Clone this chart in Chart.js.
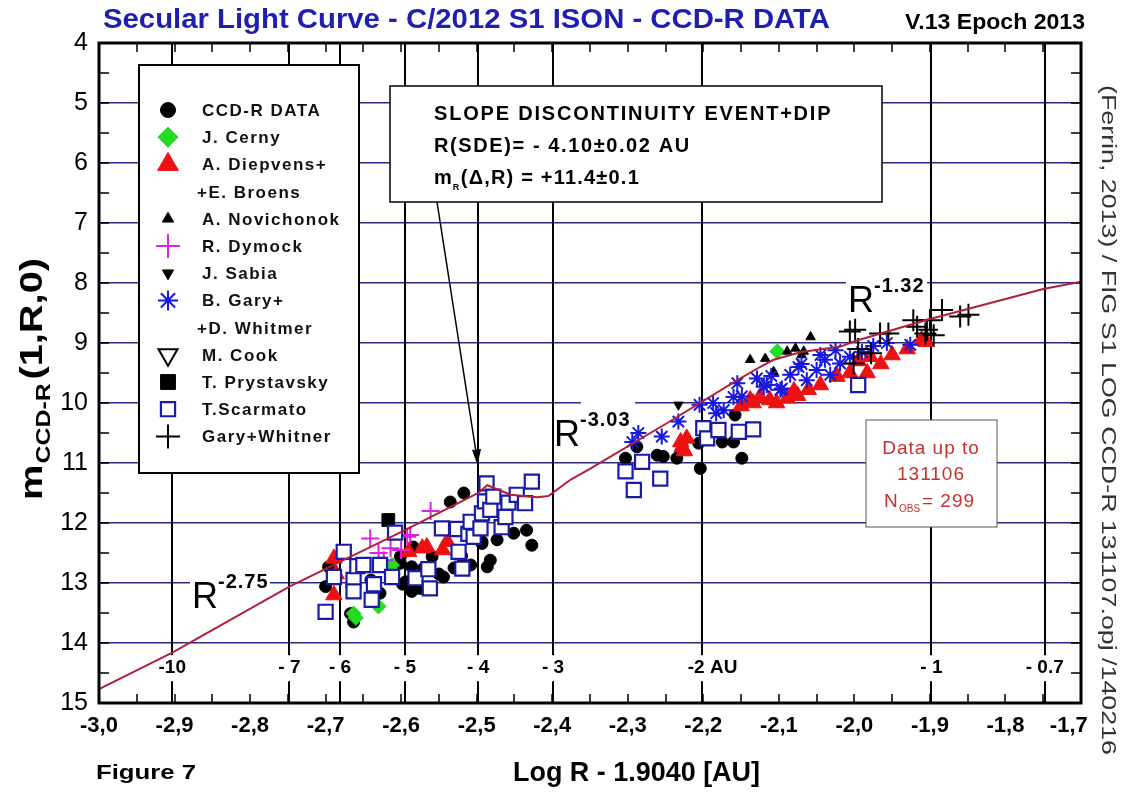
<!DOCTYPE html>
<html>
<head>
<meta charset="utf-8">
<script src="https://cdn.jsdelivr.net/npm/chart.js@4.4.0/dist/chart.umd.min.js"></script>
<style>
  html, body { margin: 0; padding: 0; background: #fff; overflow: hidden; }
  canvas { display: block; }
</style>
</head>
<body>
<canvas id="lightCurve" width="1126" height="793"></canvas>
<script>
// values: [Log R - 1.9040, m(1,R,0)]
const ccdR = [
  [-2.700, 13.06], [-2.696, 12.73], [-2.667, 13.51], [-2.663, 13.65], [-2.628, 13.17],
  [-2.640, 12.95], [-2.615, 12.80], [-2.601, 12.67], [-2.601, 12.56], [-2.598, 13.02],
  [-2.594, 12.98], [-2.586, 12.73], [-2.586, 13.14], [-2.584, 12.40], [-2.575, 13.09],
  [-2.570, 12.75], [-2.559, 12.56], [-2.550, 12.85], [-2.544, 12.90], [-2.535, 11.65],
  [-2.530, 12.75], [-2.520, 12.55], [-2.517, 11.50], [-2.508, 12.70], [-2.493, 12.31],
  [-2.493, 12.34], [-2.486, 12.73], [-2.482, 12.62], [-2.473, 12.28], [-2.451, 12.17],
  [-2.434, 12.12], [-2.427, 12.37],
  [-2.303, 10.92], [-2.288, 10.73], [-2.261, 10.87], [-2.253, 10.89], [-2.235, 10.92],
  [-2.206, 10.67], [-2.204, 11.09], [-2.175, 10.65], [-2.160, 10.65], [-2.158, 10.20],
  [-2.149, 10.92]
];
const cerny = [[-2.663, 13.51], [-2.660, 13.58], [-2.630, 13.39], [-2.612, 12.70], [-2.102, 9.14]];
const diepvens = [
  [-2.689, 12.59], [-2.689, 13.20], [-2.686, 12.85], [-2.590, 12.48], [-2.572, 12.42],
  [-2.566, 12.40], [-2.539, 12.31], [-2.545, 12.45],
  [-2.230, 10.65], [-2.228, 10.73], [-2.222, 10.59], [-2.225, 10.80],
  [-2.150, 10.05], [-2.138, 9.95], [-2.134, 10.00], [-2.125, 9.90], [-2.112, 9.95],
  [-2.103, 10.00], [-2.089, 9.92], [-2.080, 9.80], [-2.075, 9.88], [-2.061, 9.78],
  [-2.045, 9.70], [-2.023, 9.56], [-2.006, 9.50], [-1.995, 9.30], [-1.983, 9.50],
  [-1.979, 9.23], [-1.965, 9.35], [-1.950, 9.20], [-1.930, 9.10], [-1.911, 8.95], [-1.905, 8.98]
];
const novichonok = [
  [-2.138, 9.28], [-2.118, 9.26], [-2.107, 9.48], [-2.089, 9.14], [-2.078, 9.09],
  [-2.070, 9.20], [-2.067, 9.14], [-2.058, 8.90]
];
const dymock = [
  [-2.641, 12.26], [-2.630, 12.50], [-2.623, 12.62], [-2.614, 12.42], [-2.600, 12.45],
  [-2.592, 12.23], [-2.588, 12.20], [-2.561, 11.80]
];
const sabia = [[-2.233, 10.03]];
const garyWhitmer = [
  [-2.294, 10.65], [-2.286, 10.50], [-2.255, 10.56], [-2.233, 10.31], [-2.205, 10.03],
  [-2.187, 10.00], [-2.183, 10.17], [-2.173, 10.12], [-2.160, 9.90], [-2.155, 9.67],
  [-2.149, 9.89], [-2.129, 9.59], [-2.120, 9.73], [-2.116, 9.70], [-2.110, 9.55],
  [-2.098, 9.78], [-2.096, 9.76], [-2.085, 9.53], [-2.074, 9.40], [-2.070, 9.35],
  [-2.063, 9.62], [-2.050, 9.45], [-2.045, 9.20], [-2.039, 9.28], [-2.032, 9.53],
  [-2.025, 9.12], [-2.019, 9.34], [-2.006, 9.23], [-1.990, 9.15], [-1.975, 9.05],
  [-1.957, 9.00], [-1.926, 9.03]
];
const cook = [];
const prystavsky = [[-2.617, 11.95]];
const scarmato = [
  [-2.700, 13.48], [-2.689, 12.90], [-2.676, 12.48], [-2.663, 12.95], [-2.663, 13.14],
  [-2.658, 12.72], [-2.650, 12.70], [-2.639, 13.28], [-2.636, 13.02], [-2.628, 12.70],
  [-2.612, 12.90], [-2.608, 12.16], [-2.581, 12.92], [-2.564, 12.77], [-2.562, 13.09],
  [-2.546, 12.09], [-2.526, 12.10], [-2.524, 12.48], [-2.519, 12.76], [-2.511, 12.18],
  [-2.508, 11.98], [-2.504, 12.23], [-2.495, 12.09], [-2.493, 11.84], [-2.489, 11.64],
  [-2.487, 11.34], [-2.482, 11.78], [-2.478, 11.56], [-2.467, 12.07], [-2.462, 11.90],
  [-2.458, 11.66], [-2.447, 11.53], [-2.436, 11.67], [-2.427, 11.31],
  [-2.303, 11.14], [-2.292, 11.45], [-2.281, 10.98], [-2.257, 11.26], [-2.200, 10.42],
  [-2.195, 10.59], [-2.180, 10.45], [-2.153, 10.48], [-2.134, 10.44], [-1.995, 9.70]
];
const garyWhitner = [
  [-2.006, 8.81], [-1.999, 8.78], [-2.001, 9.34], [-1.995, 9.10], [-1.978, 9.17],
  [-1.966, 8.84], [-1.955, 8.84], [-1.922, 8.62], [-1.917, 8.73], [-1.906, 8.84],
  [-1.904, 8.78], [-1.900, 8.62], [-1.895, 8.87], [-1.884, 8.45], [-1.860, 8.56], [-1.849, 8.53]
];

// broken power-law fit (red line)
const fitLogR = [-3.000, -2.903, -2.748, -2.595, -2.498, -2.486, -2.455, -2.420, -2.405, -2.376,
  -2.349, -2.250, -2.155, -2.125, -2.107, -2.070, -2.018, -2.000, -1.900, -1.750, -1.700];
const fitMag = [14.77, 14.16, 13.06, 12.12, 11.50, 11.37, 11.53, 11.57, 11.55, 11.28,
  11.09, 10.35, 9.62, 9.40, 9.28, 9.15, 9.06, 8.97, 8.60, 8.10, 7.98];

// heliocentric distance markers (AU, pre-perihelion)
const auLinePos = [-2.903, -2.748, -2.681, -2.595, -2.498, -2.399, -2.202, -1.898, -1.748];
const auLineLabels = ['-10', '- 7', '- 6', '- 5', '- 4', '- 3', '-2 AU', '- 1', '- 0.7'];

const NAVY = '#2a2a80';
const SANS = "'Liberation Sans', Arial, sans-serif";
const NARROW = "'Liberation Sans Narrow', 'Liberation Sans', Arial, sans-serif";

const toXY = arr => arr.map(([x, y]) => ({x, y}));

const series = [
  {label: 'CCD-R DATA', data: ccdR, pointStyle: 'circle', r: 6, lr: 7.5, fill: '#000', stroke: '#000', bw: 1, order: 9},
  {label: 'J. Cerny', data: cerny, pointStyle: 'rectRot', r: 7.5, lr: 10, fill: '#22dd22', stroke: '#22cc22', bw: 1, order: 8},
  {label: 'A. Diepvens+', data: diepvens, pointStyle: 'triangle', r: 9.5, lr: 12, fill: '#ee1111', stroke: '#ee1111', bw: 1, order: 7},
  {label: 'A. Novichonok', data: novichonok, pointStyle: 'triangle', r: 5.5, lr: 6.5, fill: '#000', stroke: '#000', bw: 1, order: 6},
  {label: 'R. Dymock', data: dymock, pointStyle: 'cross', r: 9, lr: 12, fill: '#e020e0', stroke: '#e020e0', bw: 2, order: 4},
  {label: 'J. Sabia', data: sabia, pointStyle: 'triangle', rot: 180, r: 5.5, lr: 6.5, fill: '#000', stroke: '#000', bw: 1, order: 5},
  {label: 'B. Gary+', data: garyWhitmer, pointStyle: 'star', r: 8, lr: 10, fill: '#1818e0', stroke: '#1818e0', bw: 2, order: 2},
  {label: 'M. Cook', data: cook, pointStyle: 'triangle', rot: 180, r: 8, lr: 11, fill: '#fff', stroke: '#000', bw: 2, order: 5},
  {label: 'T. Prystavsky', data: prystavsky, pointStyle: 'rect', r: 9, lr: 10.5, fill: '#000', stroke: '#000', bw: 1, order: 5},
  {label: 'T.Scarmato', data: scarmato, pointStyle: 'rect', r: 10, lr: 10, fill: '#fff', stroke: '#1a1aa8', bw: 2.2, order: 3},
  {label: 'Gary+Whitner', data: garyWhitner, pointStyle: 'cross', r: 11, lr: 12, fill: '#000', stroke: '#000', bw: 2, order: 1}
];

const legendRows = [
  {s: 0}, {s: 1}, {s: 2}, {text: '+E. Broens'}, {s: 3}, {s: 4}, {s: 5},
  {s: 6}, {text: '+D. Whitmer'}, {s: 7}, {s: 8}, {s: 9}, {s: 10}
];

function fitText(ctx, str, x, y, width, font, color, align) {
  ctx.save();
  ctx.font = font;
  ctx.fillStyle = color;
  ctx.textBaseline = 'middle';
  const w = ctx.measureText(str).width;
  const k = width / w;
  let x0 = x;
  if (align === 'center') x0 = x - width / 2;
  ctx.translate(x0, y);
  ctx.scale(k, 1);
  ctx.textAlign = 'left';
  ctx.fillText(str, 0, 0);
  ctx.restore();
}

function spaced(ctx, str, x, y, font, color, spacing, align) {
  ctx.save();
  ctx.font = font;
  ctx.fillStyle = color;
  ctx.letterSpacing = spacing + 'px';
  ctx.textBaseline = 'alphabetic';
  ctx.textAlign = align || 'left';
  ctx.fillText(str, x, y);
  const w = ctx.measureText(str).width;
  ctx.restore();
  return w;
}

function marker(ctx, s, radius, x, y) {
  ctx.save();
  ctx.fillStyle = s.fill;
  ctx.strokeStyle = s.stroke;
  ctx.lineWidth = s.bw;
  Chart.helpers.drawPoint(ctx, {pointStyle: s.pointStyle, rotation: s.rot || 0, radius: radius, borderWidth: s.bw}, x, y);
  ctx.restore();
}

function powerLabel(ctx, x, y, exp, bg) {
  ctx.save();
  ctx.fillStyle = '#fff';
  ctx.fillRect(bg[0], bg[1], bg[2], bg[3]);
  ctx.restore();
  spaced(ctx, 'R', x, y, '36px ' + SANS, '#000', 0);
  spaced(ctx, exp, x + 26, y - 20, 'bold 20px ' + SANS, '#000', 1);
}

const decorations = {
  id: 'decorations',
  beforeDatasetsDraw(chart) {
    const {ctx, chartArea: a, scales: {x, y}} = chart;
    ctx.save();
    // AU marker lines
    ctx.strokeStyle = '#000';
    ctx.lineWidth = 2;
    auLinePos.forEach(v => {
      const px = Math.round(x.getPixelForValue(v));
      ctx.beginPath(); ctx.moveTo(px, a.top); ctx.lineTo(px, a.bottom); ctx.stroke();
    });
    // inner ticks
    ctx.lineWidth = 1.5;
    for (let i = 0; i <= 26; i++) {
      const px = Math.round(x.getPixelForValue(-3 + i * 0.05));
      ctx.beginPath();
      ctx.moveTo(px, a.bottom); ctx.lineTo(px, a.bottom - 9);
      ctx.moveTo(px, a.top); ctx.lineTo(px, a.top + 9);
      ctx.stroke();
    }
    for (let i = 0; i <= 22; i++) {
      const py = Math.round(y.getPixelForValue(4 + i * 0.5));
      ctx.beginPath();
      ctx.moveTo(a.left, py); ctx.lineTo(a.left + 10, py);
      ctx.moveTo(a.right, py); ctx.lineTo(a.right - 10, py);
      ctx.stroke();
    }
    // AU labels
    const ly = y.getPixelForValue(14.42);
    auLinePos.forEach((v, i) => {
      const px = x.getPixelForValue(v);
      const str = auLineLabels[i];
      ctx.font = 'bold 19px ' + NARROW;
      const w = ctx.measureText(str).width;
      const left = str.indexOf('AU') > 0 ? px - 14 : px - w / 2;
      ctx.fillStyle = '#fff';
      ctx.fillRect(left - 2, ly - 13, w + 4, 26);
      ctx.fillStyle = '#000';
      ctx.textBaseline = 'middle';
      ctx.textAlign = 'left';
      ctx.fillText(str, left, ly);
    });
    ctx.restore();
    // power-law slopes
    powerLabel(ctx, 192, 608, '-2.75', [190, 570, 80, 40]);
    powerLabel(ctx, 554, 446, '-3.03', [581, 396, 54, 28]);
    powerLabel(ctx, 848, 312, '-1.32', [846, 274, 81, 20]);
  },
  afterDatasetsDraw(chart) {
    const {ctx, chartArea: a} = chart;
    ctx.save();
    // legend box
    ctx.fillStyle = '#fff';
    ctx.strokeStyle = '#000';
    ctx.lineWidth = 2;
    ctx.fillRect(139, 65, 220, 408);
    ctx.strokeRect(139, 65, 220, 408);
    legendRows.forEach((row, i) => {
      const ry = 110 + i * 27.2;
      if (row.text) {
        spaced(ctx, row.text, 197, ry + 6, 'bold 17px ' + SANS, '#111', 1.5);
      } else {
        const s = series[row.s];
        marker(ctx, s, s.lr, 168, ry);
        spaced(ctx, s.label, 202, ry + 6, 'bold 17px ' + SANS, '#111', 1.5);
      }
    });
    // slope discontinuity box
    ctx.fillStyle = '#fff';
    ctx.lineWidth = 1.5;
    ctx.fillRect(390, 86, 492, 116);
    ctx.strokeRect(390, 86, 492, 116);
    spaced(ctx, 'SLOPE DISCONTINUITY EVENT+DIP', 434, 120, 'bold 20px ' + SANS, '#000', 1.8);
    spaced(ctx, 'R(SDE)= - 4.10\u00b10.02 AU', 434, 152, 'bold 20px ' + SANS, '#000', 1.6);
    let w = spaced(ctx, 'm', 434, 184, 'bold 20px ' + SANS, '#000', 0);
    spaced(ctx, 'R', 434 + w + 1, 190, 'bold 9px ' + SANS, '#000', 0);
    spaced(ctx, '(\u0394,R) = +11.4\u00b10.1', 434 + w + 9, 184, 'bold 20px ' + SANS, '#000', 1.2);
    // arrow
    ctx.strokeStyle = '#000';
    ctx.fillStyle = '#000';
    ctx.lineWidth = 1.5;
    ctx.beginPath(); ctx.moveTo(437, 202); ctx.lineTo(476, 452); ctx.stroke();
    ctx.beginPath(); ctx.moveTo(477.5, 465); ctx.lineTo(472, 450); ctx.lineTo(481, 449); ctx.closePath(); ctx.fill();
    // data count box
    ctx.fillStyle = '#fff';
    ctx.strokeStyle = '#555';
    ctx.lineWidth = 1;
    ctx.fillRect(866, 420, 131, 107);
    ctx.strokeRect(866, 420, 131, 107);
    const red = '#c8302c';
    spaced(ctx, 'Data up to', 931, 454, '19px ' + SANS, red, 1, 'center');
    spaced(ctx, '131106', 931, 480, '19px ' + SANS, red, 1, 'center');
    spaced(ctx, 'N', 884, 507, '19px ' + SANS, red, 0);
    spaced(ctx, 'OBS', 899, 512, '10px ' + SANS, red, 0);
    spaced(ctx, '= 299', 922, 507, '19px ' + SANS, red, 1);
    // frame
    ctx.strokeStyle = '#000';
    ctx.lineWidth = 3;
    ctx.strokeRect(a.left, a.top, a.right - a.left, a.bottom - a.top);
    ctx.restore();
  },
  afterDraw(chart) {
    const {ctx} = chart;
    fitText(ctx, 'Secular Light Curve - C/2012 S1 ISON - CCD-R DATA', 103, 20, 727, 'bold 28px ' + SANS, '#1e1eb0');
    fitText(ctx, 'V.13 Epoch 2013', 905, 23, 180, 'bold 22px ' + SANS, '#000');
    fitText(ctx, 'Figure 7', 96, 773, 100, 'bold 21px ' + SANS, '#000');
    fitText(ctx, 'Log R - 1.9040 [AU]', 513, 773, 247, 'bold 28px ' + SANS, '#000');
    // y-axis title, stretched along the axis to its printed length
    ctx.save();
    ctx.translate(31, 500);
    ctx.rotate(-Math.PI / 2);
    ctx.fillStyle = '#000';
    ctx.textBaseline = 'alphabetic';
    ctx.font = 'bold 32px ' + SANS;
    const wm = ctx.measureText('m').width;
    const wp = ctx.measureText('(1,R,0)').width;
    ctx.font = 'bold 20px ' + SANS;
    const ws = ctx.measureText('CCD-R').width;
    const k = 242 / (wm + ws + wp + 4);
    ctx.scale(k, 1);
    ctx.font = 'bold 32px ' + SANS;
    ctx.fillText('m', 0, 11);
    ctx.font = 'bold 20px ' + SANS;
    ctx.fillText('CCD-R', wm + 1, 19);
    ctx.font = 'bold 32px ' + SANS;
    ctx.fillText('(1,R,0)', wm + ws + 4, 11);
    ctx.restore();
    // side caption
    ctx.save();
    ctx.translate(1108, 85);
    ctx.rotate(Math.PI / 2);
    fitText(ctx, '(Ferrin, 2013) / FIG S1 LOG CCD-R 131107.opj /140216', 0, 0, 670, '20px ' + SANS, '#333');
    ctx.restore();
  }
};

const datasets = series.map(s => ({
  label: s.label,
  data: toXY(s.data),
  pointStyle: s.pointStyle,
  pointRotation: s.rot || 0,
  pointRadius: s.r,
  pointBackgroundColor: s.fill,
  pointBorderColor: s.stroke,
  pointBorderWidth: s.bw,
  order: s.order
}));
datasets.push({
  type: 'line',
  label: 'fit',
  data: fitLogR.map((v, i) => ({x: v, y: fitMag[i]})),
  borderColor: '#b0203a',
  borderWidth: 2,
  pointRadius: 0,
  tension: 0,
  order: 0
});

new Chart(document.getElementById('lightCurve'), {
  type: 'scatter',
  data: {datasets},
  options: {
    responsive: false,
    animation: false,
    events: [],
    layout: {padding: {left: 0, right: 45, top: 43, bottom: 0}},
    plugins: {legend: {display: false}, tooltip: {enabled: false}},
    scales: {
      x: {
        type: 'linear',
        min: -3,
        max: -1.7,
        afterFit: s => { s.height = 90; },
        grid: {display: false, drawTicks: false},
        border: {display: false},
        ticks: {
          stepSize: 0.1,
          autoSkip: false,
          maxRotation: 0,
          padding: 10,
          color: '#000',
          font: {family: NARROW, size: 22, weight: 'bold'},
          // last label sits left of the frame corner, as in the print
          callback: v => v.toFixed(1).replace('.', ',') + (v > -1.75 ? '    ' : '')
        }
      },
      y: {
        reverse: true,
        min: 4,
        max: 15,
        afterFit: s => { s.width = 99; },
        grid: {color: NAVY, lineWidth: 1.5, drawTicks: false},
        border: {display: false},
        ticks: {
          stepSize: 1,
          padding: 11,
          color: '#000',
          font: {family: NARROW, size: 25}
        }
      }
    }
  },
  plugins: [decorations]
});
</script>
</body>
</html>
